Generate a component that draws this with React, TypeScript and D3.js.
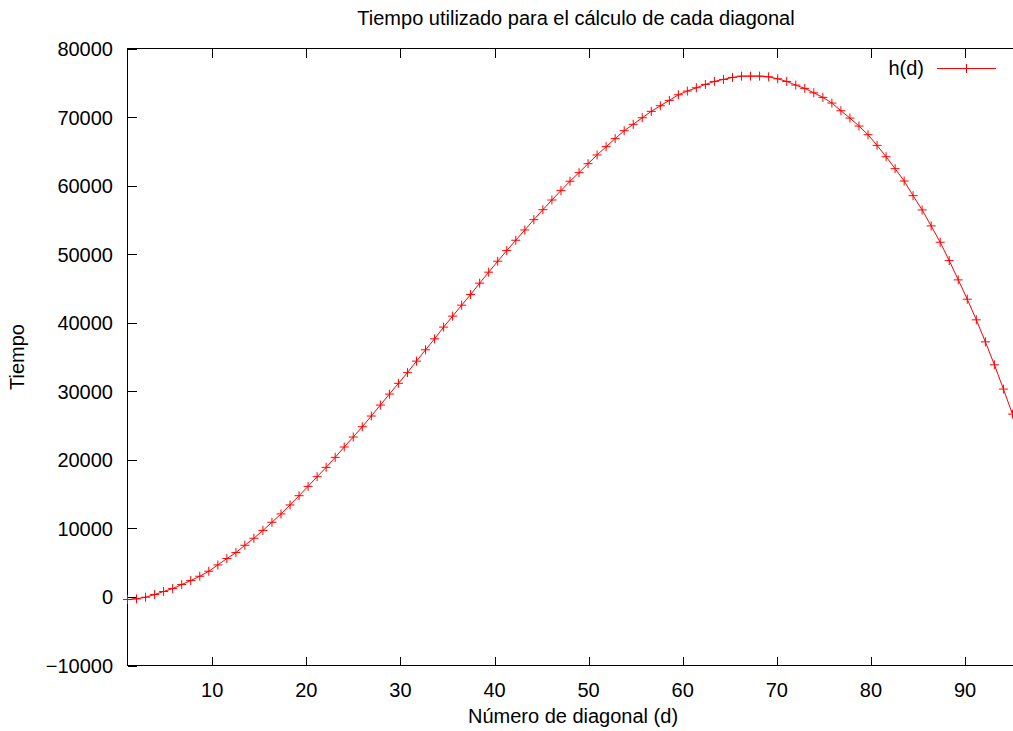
import React from "react";
import * as d3 from "d3";

// Sample positions along the diagonal axis (d)
const dValues: number[] = [
  1.0, 1.96, 2.92, 3.88, 4.84, 5.8, 6.76, 7.72, 8.68, 9.64,
  10.6, 11.56, 12.52, 13.47, 14.43, 15.39, 16.35, 17.31, 18.27, 19.23,
  20.19, 21.15, 22.11, 23.07, 24.03, 24.99, 25.95, 26.91, 27.87, 28.83,
  29.79, 30.75, 31.71, 32.67, 33.63, 34.59, 35.55, 36.51, 37.46, 38.42,
  39.38, 40.34, 41.3, 42.26, 43.22, 44.18, 45.14, 46.1, 47.06, 48.02,
  48.98, 49.94, 50.9, 51.86, 52.82, 53.78, 54.74, 55.7, 56.66, 57.62,
  58.58, 59.54, 60.49, 61.45, 62.41, 63.37, 64.33, 65.29, 66.25, 67.21,
  68.17, 69.13, 70.09, 71.05, 72.01, 72.97, 73.93, 74.89, 75.85, 76.81,
  77.77, 78.73, 79.69, 80.65, 81.61, 82.57, 83.53, 84.48, 85.44, 86.4,
  87.36, 88.32, 89.28, 90.24, 91.2, 92.16, 93.12, 94.08, 95.04, 96.0,
];

// Time values h(d)
const hValues: number[] = [
  -380, -280, -40, 350, 790, 1220, 1810, 2390, 3020, 3750,
  4670, 5600, 6470, 7540, 8560, 9700, 10890, 12110, 13420, 14770,
  16130, 17540, 18900, 20360, 21870, 23330, 24830, 26390, 27990, 29590,
  31160, 32720, 34400, 36050, 37650, 39360, 40960, 42560, 44110, 45770,
  47370, 48970, 50520, 52030, 53530, 55030, 56490, 57900, 59270, 60640,
  61890, 63200, 64470, 65680, 66850, 68010, 68940, 69900, 70830, 71650,
  72430, 73250, 73790, 74270, 74760, 75200, 75490, 75780, 75970, 75970,
  75970, 75870, 75580, 75200, 74660, 74180, 73540, 72870, 72040, 70920,
  69850, 68690, 67420, 65870, 64210, 62470, 60670, 58530, 56450, 54120,
  51740, 49060, 46250, 43430, 40420, 37210, 33860, 30320, 26670, 22900,
];

const xTicks: number[] = [10, 20, 30, 40, 50, 60, 70, 80, 90];
const yTicks: number[] = [-10000, 0, 10000, 20000, 30000, 40000, 50000, 60000, 70000, 80000];

const titleText = "Tiempo utilizado para el cálculo de cada diagonal";
const xLabelText = "Número de diagonal (d)";
const yLabelText = "Tiempo";
const seriesName = "h(d)";

const W = 1013;
const H = 731;
const FONT = "'Liberation Sans', Arial, Helvetica, sans-serif";
const FS = 20;
const RED = "#ff0000";
const TICK = 9;
const MS = 4.5;

export default function App() {
  const x = d3.scaleLinear().domain([1, 96]).range([127.5, 1021.5]);
  const y = d3.scaleLinear().domain([-10000, 80000]).range([665.5, 48.5]);
  const [x0, x1] = x.range();
  const [y0, y1] = y.range();

  const pts: [number, number][] = dValues.map((d, i) => [x(d), y(hValues[i])]);
  const linePath = d3.line()(pts) || "";
  const plus = (cx: number, cy: number) =>
    `M${cx - MS},${cy}H${cx + MS}M${cx},${cy - MS}V${cy + MS}`;
  const markers = pts.map(([px, py]) => plus(px, py)).join("");

  const legY = 68.5;
  const legX0 = 937;
  const legX1 = 996;

  return (
    <svg
      width={W}
      height={H}
      style={{ position: "absolute", left: 0, top: 0, background: "#fff" }}
      fontFamily={FONT}
      fontSize={FS}
    >
      <rect x={0} y={0} width={W} height={H} fill="#fff" />
      <defs>
        <clipPath id="plotclip">
          <rect x={x0 - 6} y={y1} width={x1 - x0 + 6} height={y0 - y1} />
        </clipPath>
      </defs>

      {/* border */}
      <rect
        x={x0}
        y={y1}
        width={x1 - x0}
        height={y0 - y1}
        fill="none"
        stroke="#000"
        strokeWidth={1}
        shapeRendering="crispEdges"
      />

      {/* x ticks */}
      {xTicks.map((t) => {
        const px = Math.round(x(t)) + 0.5;
        return (
          <g key={"xt" + t}>
            <line x1={px} x2={px} y1={y0} y2={y0 - TICK} stroke="#000" shapeRendering="crispEdges" />
            <line x1={px} x2={px} y1={y1} y2={y1 + TICK} stroke="#000" shapeRendering="crispEdges" />
            <text x={x(t)} y={y0 + 31} textAnchor="middle" fill="#000">
              {t}
            </text>
          </g>
        );
      })}

      {/* y ticks */}
      {yTicks.map((t) => {
        const py = Math.round(y(t)) + 0.5;
        return (
          <g key={"yt" + t}>
            <line x1={x0} x2={x0 + TICK} y1={py} y2={py} stroke="#000" shapeRendering="crispEdges" />
            <line x1={x1} x2={x1 - TICK} y1={py} y2={py} stroke="#000" shapeRendering="crispEdges" />
            <text x={113} y={y(t) + 7.5} textAnchor="end" fill="#000">
              {t < 0 ? "\u2212" + Math.abs(t) : String(t)}
            </text>
          </g>
        );
      })}

      {/* title & axis labels */}
      <text x={576} y={25} textAnchor="middle" fill="#000">
        {titleText}
      </text>
      <text x={573} y={723} textAnchor="middle" fill="#000">
        {xLabelText}
      </text>
      <text
        transform={`translate(23.5,${357}) rotate(-90)`}
        textAnchor="middle"
        fill="#000"
      >
        {yLabelText}
      </text>

      {/* series */}
      <g clipPath="url(#plotclip)">
        <path d={linePath} fill="none" stroke={RED} strokeWidth={1} />
      </g>
      <path d={markers} fill="none" stroke={RED} strokeWidth={1} />

      {/* legend */}
      <text x={924} y={75} textAnchor="end" fill="#000">
        {seriesName}
      </text>
      <line x1={legX0} x2={legX1} y1={legY} y2={legY} stroke={RED} strokeWidth={1} />
      <path d={plus((legX0 + legX1) / 2, legY)} fill="none" stroke={RED} strokeWidth={1} />
    </svg>
  );
}
